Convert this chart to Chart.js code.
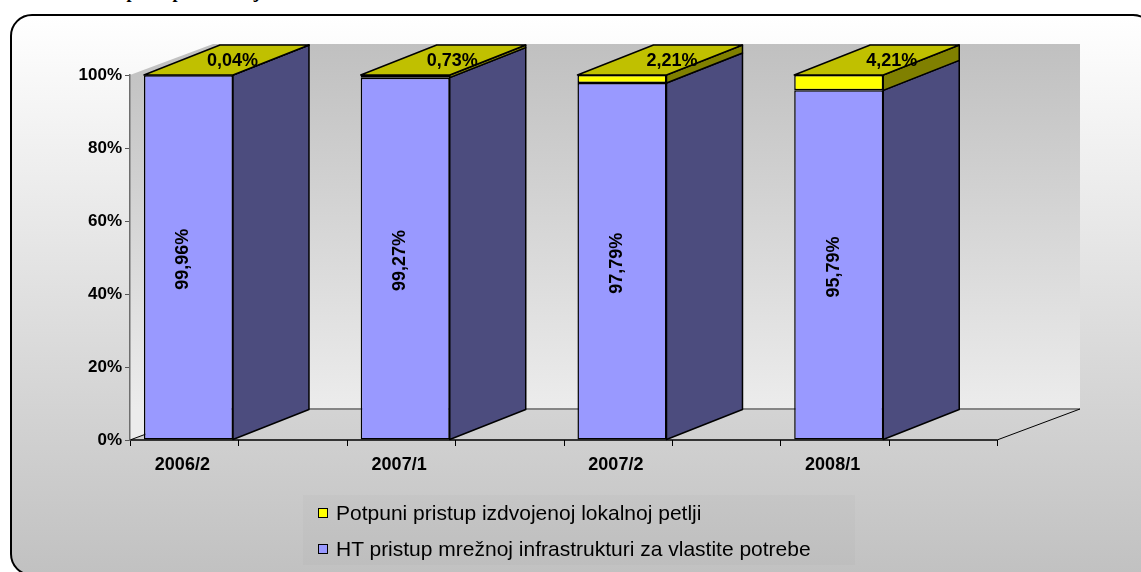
<!DOCTYPE html>
<html>
<head>
<meta charset="utf-8">
<script src="https://cdn.jsdelivr.net/npm/chart.js@4.4.0/dist/chart.umd.min.js"></script>
<style>
    html, body { margin: 0; padding: 0; background: #fff; width: 1141px; height: 572px; overflow: hidden; }
    body { position: relative; font-family: "Liberation Sans", Arial, sans-serif; }
    #caption { position: absolute; left: 22px; top: -17px; line-height: 18px; font: bold 18px/18px "Liberation Serif", serif; white-space: nowrap; }
    #frame { position: absolute; left: 10px; top: 14px; width: 1145px; height: 562px; box-sizing: border-box;
             border: 2px solid #000; border-radius: 22px; background: linear-gradient(#ffffff 0%, #c1c1c1 100%); }
    #chart { position: absolute; left: 0; top: 0; }
    #legend { position: absolute; left: 303px; top: 495px; width: 552px; height: 70px; background: rgba(0,0,0,0.02); }
    .item { position: absolute; left: 15px; height: 22px; display: flex; align-items: center; font-size: 21px; color: #000; white-space: nowrap; }
    .box { width: 8px; height: 8px; border: 1.5px solid #000; margin-right: 8px; }
</style>
</head>
<body>
<div id="caption">Slika 5: Udio pristupa mrežnoj infrastrukturi</div>
<div id="frame"></div>
<canvas id="chart" width="1141" height="572"></canvas>
<div id="legend"></div>
<script>
const categories = ['2006/2', '2007/1', '2007/2', '2008/1'];
const htValues = [99.96, 99.27, 97.79, 95.79];
const llValues = [0.04, 0.73, 2.21, 4.21];
const yTicks = [0, 20, 40, 60, 80, 100];

const htLabel = 'HT pristup mrežnoj infrastrukturi za vlastite potrebe';
const llLabel = 'Potpuni pristup izdvojenoj lokalnoj petlji';

// 3D depth of walls and of bars
const WALL_DX = 83, WALL_DY = -31;
const BAR_DX = 76, BAR_DY = -30;

const fontFamily = '"Liberation Sans", Arial, sans-serif';
Chart.defaults.font.family = fontFamily;
Chart.defaults.color = '#000';

function fmt(v) {
    return v.toFixed(2).replace('.', ',') + '%';
}

function poly(ctx, pts, fill) {
    ctx.beginPath();
    ctx.moveTo(pts[0][0], pts[0][1]);
    for (let i = 1; i < pts.length; i++) {
        ctx.lineTo(pts[i][0], pts[i][1]);
    }
    ctx.closePath();
    ctx.fillStyle = fill;
    ctx.fill();
    ctx.stroke();
}

const framePlugin = {
    id: 'frame3d',
    beforeDraw(chart) {
        const ctx = chart.ctx;
        const xs = chart.scales.x, ys = chart.scales.y;
        const l = xs.left, r = xs.right;
        const t = ys.getPixelForValue(100), b = ys.getPixelForValue(0);
        ctx.save();

        let g = ctx.createLinearGradient(0, t + WALL_DY, 0, b + WALL_DY);
        g.addColorStop(0, '#c0c0c0');
        g.addColorStop(1, '#ececec');

        // left wall
        ctx.beginPath();
        ctx.moveTo(l, t);
        ctx.lineTo(l + WALL_DX, t + WALL_DY);
        ctx.lineTo(l + WALL_DX, b + WALL_DY);
        ctx.lineTo(l, b);
        ctx.closePath();
        ctx.fillStyle = g;
        ctx.fill();

        // back wall
        ctx.fillStyle = g;
        ctx.fillRect(l + WALL_DX, t + WALL_DY, r - l, b - t);

        // bottom edge of back wall
        ctx.strokeStyle = '#858585';
        ctx.lineWidth = 2;
        ctx.beginPath();
        ctx.moveTo(l + WALL_DX, b + WALL_DY);
        ctx.lineTo(r + WALL_DX, b + WALL_DY);
        ctx.stroke();

        // floor edges
        ctx.strokeStyle = '#000';
        ctx.lineWidth = 1;
        ctx.beginPath();
        ctx.moveTo(l, b);
        ctx.lineTo(l + WALL_DX, b + WALL_DY);
        ctx.moveTo(r, b);
        ctx.lineTo(r + WALL_DX, b + WALL_DY);
        ctx.stroke();

        ctx.lineWidth = 1.5;
        ctx.beginPath();
        ctx.moveTo(l, b);
        ctx.lineTo(r, b);
        ctx.stroke();

        // tick marks, at band edges and band middles
        const half = (r - l) / (categories.length * 2);
        ctx.lineWidth = 1;
        ctx.beginPath();
        for (let k = 0; k <= categories.length * 2; k++) {
            const px = Math.round(l + k * half) + 0.5;
            ctx.moveTo(px, b);
            ctx.lineTo(px, b + 6);
        }
        ctx.stroke();
        ctx.restore();
    },
    afterDatasetsDraw(chart) {
        const ctx = chart.ctx;
        ctx.save();
        ctx.strokeStyle = '#000';
        ctx.lineWidth = 1.5;
        ctx.lineJoin = 'round';

        chart.data.datasets.forEach((ds, i) => {
            if (!ds.sideColor) return;
            const meta = chart.getDatasetMeta(i);
            meta.data.forEach((bar) => {
                const p = bar.getProps(['x', 'y', 'base', 'width'], true);
                const xl = p.x - p.width / 2, xr = p.x + p.width / 2;
                poly(ctx, [[xr, p.y], [xr + BAR_DX, p.y + BAR_DY], [xr + BAR_DX, p.base + BAR_DY], [xr, p.base]], ds.sideColor);
                if (ds.topColor) {
                    poly(ctx, [[xl, p.y], [xr, p.y], [xr + BAR_DX, p.y + BAR_DY], [xl + BAR_DX, p.y + BAR_DY]], ds.topColor);
                }
            });
        });

        // data labels
        ctx.fillStyle = '#000';
        ctx.font = 'bold 18px ' + fontFamily;
        ctx.textAlign = 'center';
        ctx.textBaseline = 'middle';
        chart.data.datasets.forEach((ds, i) => {
            if (!ds.sideColor) return;
            const meta = chart.getDatasetMeta(i);
            meta.data.forEach((bar, j) => {
                const p = bar.getProps(['x', 'y', 'base', 'width'], true);
                const text = fmt(ds.data[j]);
                if (ds.topColor) {
                    ctx.fillText(text, p.x + BAR_DX / 2 + 6 + j * 3, p.y + BAR_DY / 2 + 1);
                } else {
                    ctx.save();
                    ctx.translate(p.x - 5, (p.y + p.base) / 2 + 2);
                    ctx.rotate(-Math.PI / 2);
                    ctx.fillText(text, 0, 0);
                    ctx.restore();
                }
            });
        });
        ctx.restore();
    }
};

const chart = new Chart(document.getElementById('chart'), {
    type: 'bar',
    data: {
        labels: categories,
        datasets: [
            {
                label: htLabel,
                data: htValues,
                stack: 'front',
                backgroundColor: '#9999ff',
                sideColor: '#4c4c7e',
                borderColor: '#000',
                borderWidth: 1.5,
                borderSkipped: false
            },
            {
                label: llLabel,
                data: llValues,
                stack: 'front',
                backgroundColor: '#ffff00',
                sideColor: '#808000',
                topColor: '#c0c000',
                borderColor: '#000',
                borderWidth: 1.5,
                borderSkipped: false
            },
            {
                // empty stack, keeps room for the depth of the bars
                label: '',
                data: [null, null, null, null],
                stack: 'depth'
            }
        ]
    },
    options: {
        responsive: false,
        animation: false,
        events: [],
        categoryPercentage: 0.921,
        barPercentage: 0.892,
        layout: {
            padding: { left: 70, right: 144, top: 75, bottom: 92 }
        },
        plugins: {
            legend: { display: false },
            tooltip: { enabled: false }
        },
        scales: {
            x: {
                stacked: true,
                grid: { display: false, drawTicks: false },
                border: { display: false },
                ticks: {
                    padding: 14,
                    labelOffset: -56,
                    font: { size: 18, weight: 'bold' },
                    color: '#000'
                },
                afterFit(scale) {
                    scale.height = 40;
                }
            },
            y: {
                stacked: true,
                min: 0,
                max: 100,
                afterBuildTicks(scale) {
                    scale.ticks = yTicks.map(v => ({ value: v }));
                },
                grid: {
                    drawOnChartArea: false,
                    drawTicks: true,
                    tickLength: 5,
                    color: '#555'
                },
                border: { display: true, color: '#6e6e6e', width: 1.5 },
                ticks: {
                    padding: 3,
                    font: { size: 17, weight: 'bold' },
                    color: '#000',
                    callback: (v) => v + '%'
                },
                afterFit(scale) {
                    scale.width = 60;
                }
            }
        }
    },
    plugins: [framePlugin]
});

// legend built from the chart's own legend items
const legendEl = document.getElementById('legend');
const items = Chart.defaults.plugins.legend.labels.generateLabels(chart)
    .filter(it => it.text !== '')
    .reverse();
items.forEach((it, n) => {
    const row = document.createElement('div');
    row.className = 'item';
    row.style.top = (7 + n * 36) + 'px';
    const box = document.createElement('span');
    box.className = 'box';
    box.style.background = it.fillStyle;
    const label = document.createElement('span');
    label.textContent = it.text;
    row.appendChild(box);
    row.appendChild(label);
    legendEl.appendChild(row);
});
</script>
</body>
</html>
